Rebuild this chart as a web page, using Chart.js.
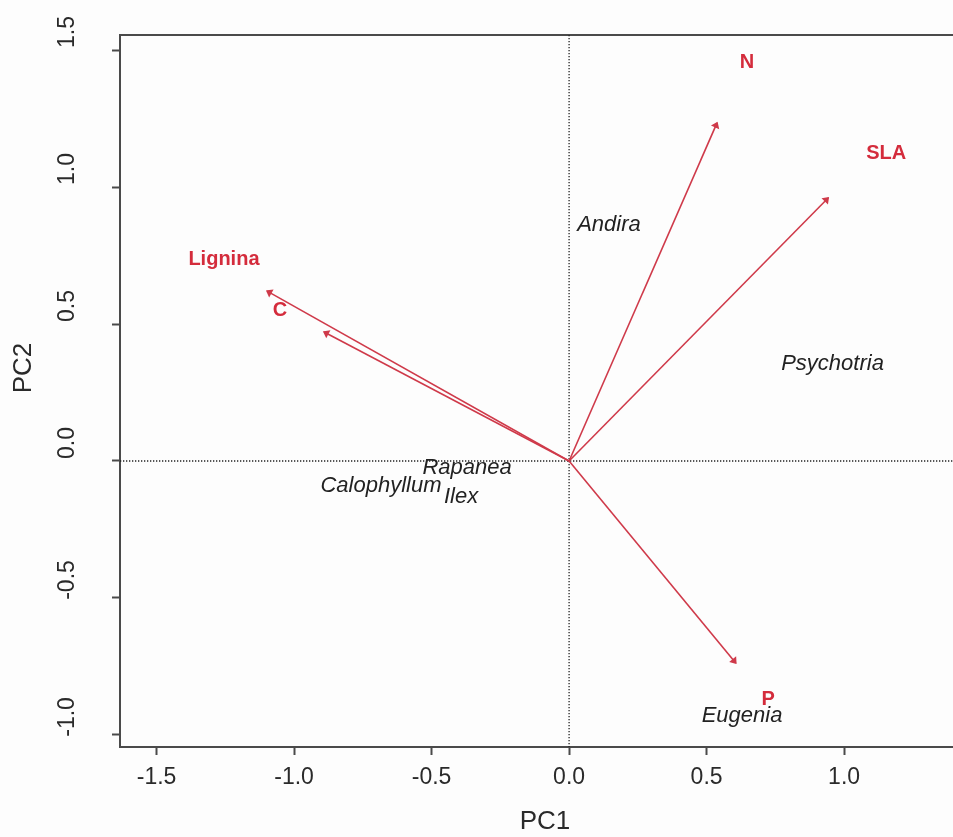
<!DOCTYPE html>
<html>
<head>
<meta charset="utf-8">
<title>PCA biplot</title>
<script src="https://cdn.jsdelivr.net/npm/chart.js@4.4.1/dist/chart.umd.min.js"></script>
<style>
  html, body { margin: 0; padding: 0; background: #fdfdfd; overflow: hidden; }
  #wrap { position: relative; width: 953px; height: 837px; }
</style>
</head>
<body>
<div id="wrap"><canvas id="biplot" width="953" height="837"></canvas></div>
<script>
// Trait loadings (arrows)
const traitNames = ['N', 'SLA', 'Lignina', 'C', 'P'];
const traitPC1 = [0.538, 0.942, -1.098, -0.891, 0.606];
const traitPC2 = [1.234, 0.960, 0.620, 0.471, -0.737];
// Where each trait name is written
const traitLabelPC1 = [0.647, 1.153, -1.255, -1.051, 0.724];
const traitLabelPC2 = [1.453, 1.124, 0.734, 0.551, -0.872];

// Species scores
const speciesNames = ['Andira', 'Psychotria', 'Rapanea', 'Calophyllum', 'Ilex', 'Eugenia'];
const speciesPC1 = [0.145, 0.958, -0.371, -0.684, -0.393, 0.629];
const speciesPC2 = [0.862, 0.356, -0.026, -0.091, -0.131, -0.931];

// Axis ticks
const xTicks = [-1.5, -1.0, -0.5, 0.0, 0.5, 1.0];
const yTicks = [-1.0, -0.5, 0.0, 0.5, 1.0, 1.5];

const RED = '#d42c3c';
const ARROW = '#cf3a4a';
const AXIS = '#4a4a4a';
const SANS = '"Liberation Sans", Arial, Helvetica, sans-serif';

const arrowSets = traitNames.map((name, i) => ({
  label: name,
  data: [{ x: 0, y: 0 }, { x: traitPC1[i], y: traitPC2[i] }],
  showLine: true,
  borderColor: ARROW,
  borderWidth: 1.6,
  pointRadius: 0,
  fill: false
}));

const biplotDecor = {
  id: 'biplotDecor',
  beforeDatasetsDraw(chart) {
    const { ctx, chartArea: a, scales: { x, y } } = chart;
    ctx.save();
    // plot frame (top edge; left and bottom come from the axis borders)
    ctx.strokeStyle = AXIS;
    ctx.lineWidth = 2;
    ctx.beginPath();
    ctx.moveTo(a.left, a.top);
    ctx.lineTo(a.right + 2, a.top);
    ctx.stroke();
    // dotted reference lines through the origin
    ctx.strokeStyle = '#222';
    ctx.lineWidth = 1.3;
    ctx.setLineDash([1.3, 1.7]);
    const x0 = x.getPixelForValue(0), y0 = y.getPixelForValue(0);
    ctx.beginPath();
    ctx.moveTo(x0, a.top); ctx.lineTo(x0, a.bottom);
    ctx.moveTo(a.left, y0); ctx.lineTo(a.right, y0);
    ctx.stroke();
    ctx.restore();
  },
  afterDatasetsDraw(chart) {
    const { ctx, scales: { x, y } } = chart;
    ctx.save();
    // arrow heads
    chart.data.datasets.forEach((ds, i) => {
      const pts = chart.getDatasetMeta(i).data;
      const p0 = pts[0], p1 = pts[1];
      const ang = Math.atan2(p1.y - p0.y, p1.x - p0.x);
      const L = 5, w = Math.PI / 5;
      ctx.strokeStyle = ARROW;
      ctx.fillStyle = ARROW;
      ctx.lineWidth = 1.6;
      ctx.beginPath();
      ctx.moveTo(p1.x, p1.y);
      ctx.lineTo(p1.x - L * Math.cos(ang - w), p1.y - L * Math.sin(ang - w));
      ctx.lineTo(p1.x - L * Math.cos(ang + w), p1.y - L * Math.sin(ang + w));
      ctx.closePath();
      ctx.fill();
      ctx.stroke();
    });
    // trait names
    ctx.textAlign = 'center';
    ctx.textBaseline = 'middle';
    ctx.fillStyle = RED;
    ctx.font = 'bold 20px ' + SANS;
    traitNames.forEach((n, i) => {
      ctx.fillText(n, x.getPixelForValue(traitLabelPC1[i]), y.getPixelForValue(traitLabelPC2[i]));
    });
    // species names
    ctx.fillStyle = '#222';
    ctx.font = 'italic 22px ' + SANS;
    speciesNames.forEach((n, i) => {
      ctx.fillText(n, x.getPixelForValue(speciesPC1[i]), y.getPixelForValue(speciesPC2[i]));
    });
    ctx.restore();
  },
  afterDraw(chart) {
    const { ctx, chartArea: a, scales: { x, y } } = chart;
    ctx.save();
    ctx.fillStyle = '#2a2a2a';
    ctx.textAlign = 'center';
    ctx.textBaseline = 'middle';
    ctx.font = '23px ' + SANS;
    // x tick labels
    xTicks.forEach(v => {
      ctx.fillText(v.toFixed(1), x.getPixelForValue(v), a.bottom + 31);
    });
    // y tick labels, written sideways
    yTicks.forEach(v => {
      ctx.save();
      ctx.translate(a.left - 52, y.getPixelForValue(v) - 18);
      ctx.rotate(-Math.PI / 2);
      ctx.fillText(v.toFixed(1), 0, 0);
      ctx.restore();
    });
    // axis titles
    ctx.font = '26px ' + SANS;
    ctx.fillText('PC1', 545, a.bottom + 75);
    ctx.save();
    ctx.translate(24, 368);
    ctx.rotate(-Math.PI / 2);
    ctx.fillText('PC2', 0, 0);
    ctx.restore();
    ctx.restore();
  }
};

new Chart(document.getElementById('biplot'), {
  type: 'scatter',
  data: { datasets: arrowSets },
  options: {
    responsive: false,
    animation: false,
    events: [],
    layout: { padding: { top: 35, right: 0, left: 0, bottom: 0 } },
    plugins: { legend: { display: false }, tooltip: { enabled: false } },
    scales: {
      x: {
        type: 'linear',
        min: -1.633,
        max: 1.396,
        afterBuildTicks: s => { s.ticks = xTicks.map(v => ({ value: v })); },
        afterFit: s => { s.height = 90; },
        ticks: { display: false },
        grid: { drawOnChartArea: false, drawTicks: true, tickLength: 8, tickWidth: 2, tickColor: AXIS },
        border: { display: true, color: AXIS, width: 2 }
      },
      y: {
        type: 'linear',
        min: -1.044,
        max: 1.555,
        afterBuildTicks: s => { s.ticks = yTicks.map(v => ({ value: v })); },
        afterFit: s => { s.width = 120; },
        ticks: { display: false },
        grid: { drawOnChartArea: false, drawTicks: true, tickLength: 8, tickWidth: 2, tickColor: AXIS },
        border: { display: true, color: AXIS, width: 2 }
      }
    }
  },
  plugins: [biplotDecor]
});
</script>
</body>
</html>
